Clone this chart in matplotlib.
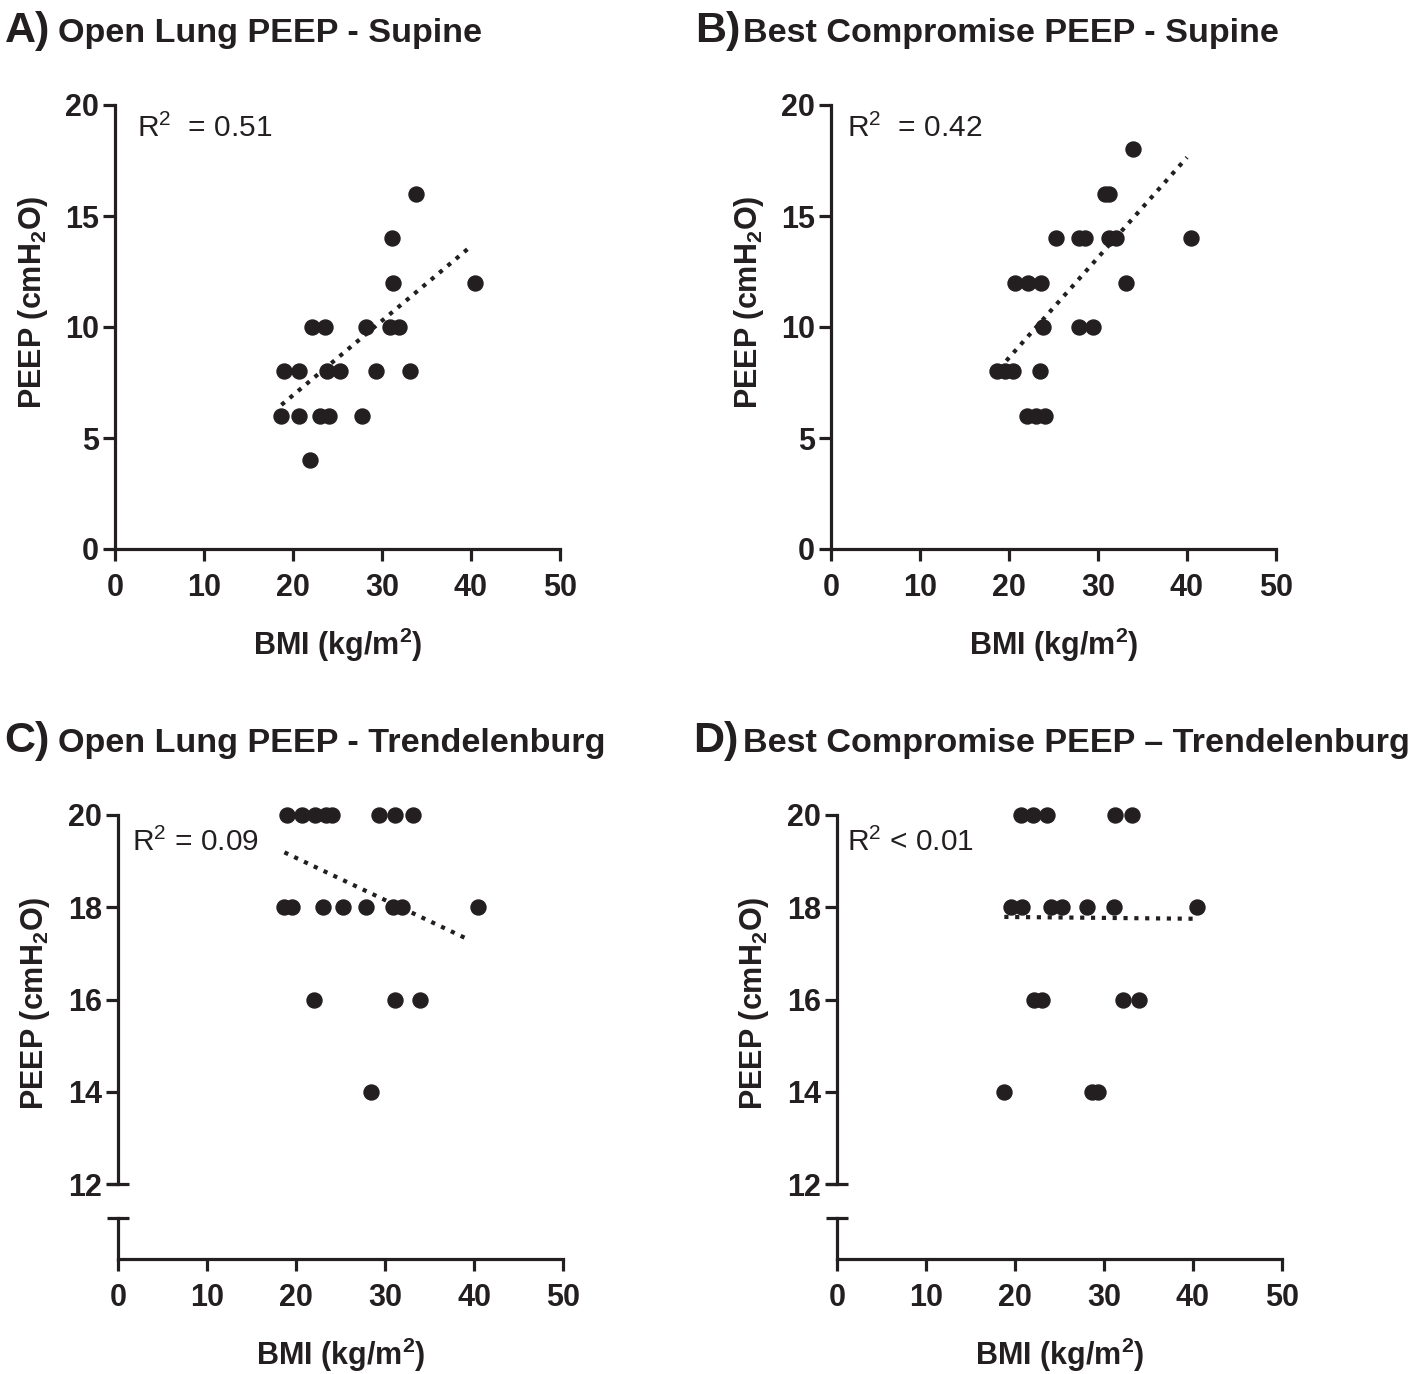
import matplotlib
matplotlib.use("Agg")
import matplotlib.pyplot as plt

plt.rcParams['font.family'] = ['Liberation Sans', 'DejaVu Sans']
plt.rcParams['mathtext.fontset'] = 'custom'
plt.rcParams['mathtext.rm'] = 'Liberation Sans'
plt.rcParams['mathtext.it'] = 'Liberation Sans:italic'
plt.rcParams['mathtext.bf'] = 'Liberation Sans:bold'

ink = '#231f20'

# panel A - open lung PEEP, supine
A_bmi = [33.8, 31.1, 31.2, 40.4, 22.1, 23.6, 28.2, 30.9, 31.9, 19.0, 20.7, 23.8, 25.3, 29.3, 33.1,
         18.6, 20.7, 23.0, 24.0, 27.8, 21.9]
A_peep = [16, 14, 12, 12, 10, 10, 10, 10, 10, 8, 8, 8, 8, 8, 8, 6, 6, 6, 6, 6, 4]
A_fit_x = [18.7, 39.8]
A_fit_y = [6.49, 13.57]

# panel B - best compromise PEEP, supine
B_bmi = [33.9, 30.8, 31.2, 25.3, 27.9, 28.5, 31.2, 32.0, 40.4, 20.7, 22.1, 23.6, 33.2,
         23.8, 27.9, 29.4, 18.6, 19.5, 20.5, 23.5, 22.0, 23.0, 24.1]
B_peep = [18, 16, 16, 14, 14, 14, 14, 14, 14, 12, 12, 12, 12, 10, 10, 10, 8, 8, 8, 8, 6, 6, 6]
B_fit_x = [19.7, 40.0]
B_fit_y = [8.48, 17.64]

# panel C - open lung PEEP, trendelenburg
C_bmi = [18.95, 20.7, 22.1, 23.4, 24.1, 29.3, 31.1, 33.1,
         18.7, 19.6, 23.0, 25.3, 27.9, 30.9, 31.9, 40.5,
         22.0, 31.1, 33.9, 28.4]
C_peep = [20] * 8 + [18] * 8 + [16] * 3 + [14]
C_fit_x = [18.7, 39.6]
C_fit_y = [19.19, 17.28]

# panel D - best compromise PEEP, trendelenburg
D_bmi = [20.7, 22.0, 23.6, 31.2, 33.2,
         19.5, 20.8, 24.1, 25.3, 28.1, 31.1, 40.5,
         22.1, 23.0, 32.1, 33.9,
         18.8, 28.6, 29.3]
D_peep = [20] * 5 + [18] * 7 + [16] * 4 + [14] * 3
D_fit_x = [18.8, 40.3]
D_fit_y = [17.79, 17.75]

x_ticks = [0, 10, 20, 30, 40, 50]
W, H = 1424, 1374
fig = plt.figure(figsize=(W / 100, H / 100), dpi=100)


def px_box(left, right, top, bottom):
    return [left / W, 1 - bottom / H, (right - left) / W, (bottom - top) / H]


def style(ax):
    for s in ['top', 'right']:
        ax.spines[s].set_visible(False)
    for s in ['left', 'bottom']:
        ax.spines[s].set_linewidth(2.3)
        ax.spines[s].set_color(ink)
    ax.tick_params(length=8.5, width=2.3, color=ink, labelcolor=ink, labelsize=22)
    ax.tick_params(axis='x', pad=9)
    ax.tick_params(axis='y', pad=3)
    for lab in ax.get_xticklabels() + ax.get_yticklabels():
        lab.set_fontweight('bold')


def scatter_fit(ax, bmi, peep, fx, fy):
    ax.plot(bmi, peep, 'o', ms=10.8, color=ink, mec=ink, clip_on=False, zorder=3)
    ax.plot(fx, fy, color=ink, lw=3, linestyle=(0, (1, 1.6)), zorder=2)


def titles(x_letter_end, x_title, base_y, letter, title):
    fig.text(x_letter_end / W, 1 - base_y / H, letter, fontsize=31, fontweight='bold',
             color=ink, va='baseline', ha='right')
    fig.text(x_title / W, 1 - base_y / H, title, fontsize=24.6, fontweight='bold',
             color=ink, va='baseline')


ylab = r'PEEP (cmH$_\mathbf{2}$O)'
xlab = r'BMI (kg/m$^\mathbf{2}$)'

# top row
for left, right, bmi, peep, fx, fy, r2, r2x in [
        (115, 560, A_bmi, A_peep, A_fit_x, A_fit_y, r'R$^2$  = 0.51', 0.049),
        (831, 1276, B_bmi, B_peep, B_fit_x, B_fit_y, r'R$^2$  = 0.42', 0.036)]:
    ax = fig.add_axes(px_box(left, right, 105, 549))
    scatter_fit(ax, bmi, peep, fx, fy)
    ax.set_xlim(0, 50)
    ax.set_ylim(0, 20)
    ax.set_xticks(x_ticks)
    ax.set_yticks([0, 5, 10, 15, 20])
    style(ax)
    ax.set_ylabel(ylab, fontsize=22, fontweight='bold', color=ink)
    ax.yaxis.set_label_coords(-0.145, 0.555)
    ax.set_xlabel(xlab, fontsize=22, fontweight='bold', color=ink, va='top')
    ax.xaxis.set_label_coords(0.5, -0.173)
    ax.text(r2x, 0.948, r2, transform=ax.transAxes, fontsize=21.5, color=ink, va='center')

titles(50, 58, 42, 'A)', 'Open Lung PEEP - Supine')
titles(740, 743, 42, 'B)', 'Best Compromise PEEP - Supine')

# bottom row with broken y axis
for left, right, bmi, peep, fx, fy, r2, r2x in [
        (118, 563, C_bmi, C_peep, C_fit_x, C_fit_y, r'R$^2$ = 0.09', 0.032),
        (837, 1282, D_bmi, D_peep, D_fit_x, D_fit_y, r'R$^2$ < 0.01', 0.023)]:
    top = fig.add_axes(px_box(left, right, 815, 1184))
    low = fig.add_axes(px_box(left, right, 1218, 1259))
    scatter_fit(top, bmi, peep, fx, fy)
    top.set_xlim(0, 50)
    top.set_ylim(12, 20)
    top.set_yticks([12, 14, 16, 18, 20])
    style(top)
    top.spines['bottom'].set_visible(False)
    top.tick_params(axis='x', bottom=False, labelbottom=False)
    top.plot([0], [0], marker='_', ms=16, mew=2.3, color=ink, transform=top.transAxes, clip_on=False)
    top.set_ylabel(ylab, fontsize=22, fontweight='bold', color=ink)
    top.yaxis.set_label_coords(-0.148, 0.49)
    top.text(r2x, 0.927, r2, transform=top.transAxes, fontsize=21.5, color=ink, va='center')

    low.set_xlim(0, 50)
    low.set_ylim(0, 1)
    low.set_xticks(x_ticks)
    low.set_yticks([])
    style(low)
    low.plot([0], [1], marker='_', ms=16, mew=2.3, color=ink, transform=low.transAxes, clip_on=False)
    low.set_xlabel(xlab, fontsize=22, fontweight='bold', color=ink, va='top')
    low.xaxis.set_label_coords(0.5, -1.88)

titles(50, 58, 752, 'C)', 'Open Lung PEEP - Trendelenburg')
titles(738, 743, 752, 'D)', 'Best Compromise PEEP \u2013 Trendelenburg')

fig.savefig('out.png', dpi=100)
